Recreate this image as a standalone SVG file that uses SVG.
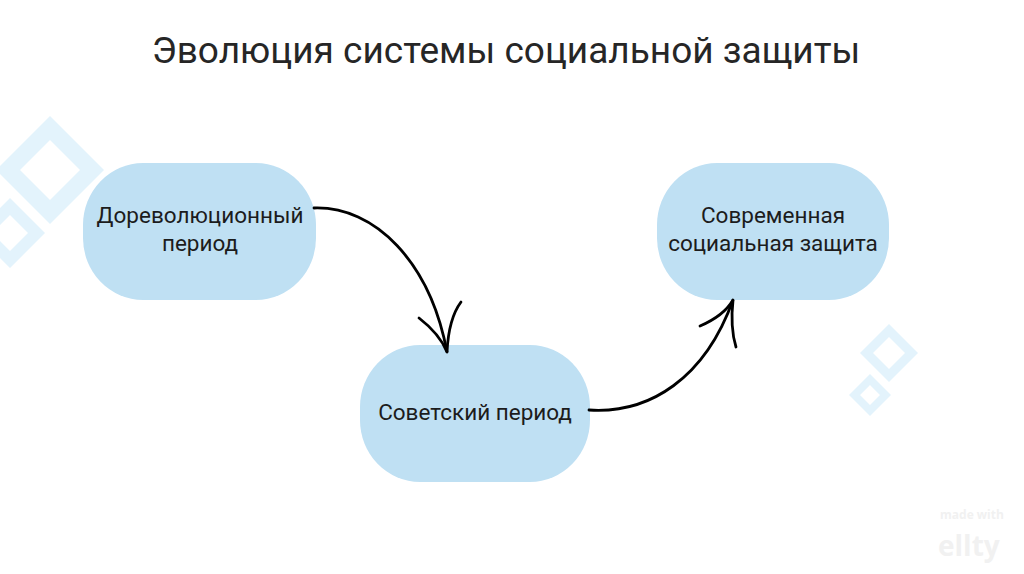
<svg xmlns="http://www.w3.org/2000/svg" width="1024" height="574" viewBox="0 0 1024 574">
<style>
.node{fill:#bfe0f3}
.lbl{font-family:Roboto,"Liberation Sans",sans-serif;font-size:22.5px;fill:#1c1c1c;text-anchor:middle}
.deco{fill:#e3f3fc;fill-rule:evenodd}
.conn{fill:none;stroke:#000;stroke-width:2.8;stroke-linecap:round}
</style>
<rect width="1024" height="574" fill="#fff"/>
<g id="decor">
<path class="deco" d="M50,116 L104,170 L50,224 L-4,170 Z M50,140 L80,170 L50,200 L20,170 Z"/>
<path class="deco" d="M10,198 L45,233 L10,268 L-25,233 Z M10,215 L28,233 L10,251 L-8,233 Z"/>
<path class="deco" d="M889,324 L918,353 L889,382 L860,353 Z M889,337 L905,353 L889,369 L873,353 Z"/>
<path class="deco" d="M870,374 L891,395 L870,416 L849,395 Z M870,385 L880,395 L870,405 L860,395 Z"/>
</g>
<text x="506" y="63" font-family="Roboto,'Liberation Sans',sans-serif" font-size="37" fill="#262626" text-anchor="middle">Эволюция системы социальной защиты</text>
<g id="node1">
<rect class="node" x="83" y="163" width="233" height="137" rx="60" ry="62"/>
<text class="lbl" x="200" y="223">Дореволюционный</text>
<text class="lbl" x="200" y="251">период</text>
</g>
<g id="node2">
<rect class="node" x="360" y="345" width="230" height="137" rx="60" ry="62"/>
<text class="lbl" x="475" y="420">Советский период</text>
</g>
<g id="node3">
<rect class="node" x="657" y="163" width="232" height="137" rx="60" ry="62"/>
<text class="lbl" x="773" y="223">Современная</text>
<text class="lbl" x="773" y="251">социальная защита</text>
</g>
<g id="connectors">
<path class="conn" d="M314,208 C375,206 430,262 447,352"/>
<path class="conn" d="M419,318 C432,328 442,340 447,352 C448,332 452,314 461,302"/>
<path class="conn" d="M589,410 C650,414 705,378 733,300"/>
<path class="conn" d="M700,326 C714,320 726,312 733,300 C731,318 732,334 736,347"/>
</g>
<g id="watermark" font-family="'Open Sans','Liberation Sans',sans-serif" font-weight="bold" fill="#f1f1f1">
<text x="940" y="519" font-size="12">made with</text>
<text x="938" y="556" font-size="28">ellty</text>
</g>
</svg>
